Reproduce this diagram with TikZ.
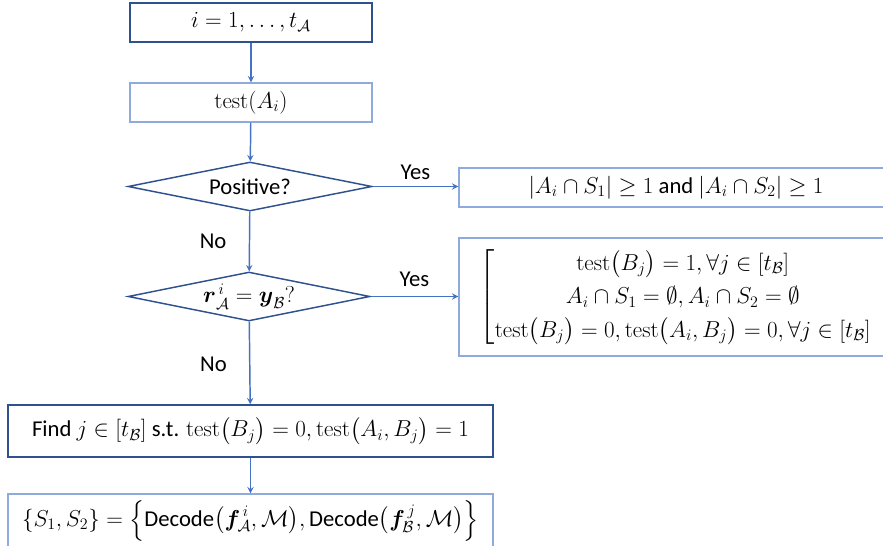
\documentclass[tikz,border=0pt]{standalone}
\usepackage{amsmath,amssymb}
\usepackage[no-math]{fontspec}
\setmainfont{Carlito}
\usepackage{tikz}
\usetikzlibrary{shapes.geometric, arrows}
\usetikzlibrary{positioning}

\definecolor{boxdark}{RGB}{47,82,143}
\definecolor{boxlight}{RGB}{143,170,220}
\definecolor{arrowblue}{RGB}{68,114,196}

\begin{document}
\begin{tikzpicture}[x=0.75pt,y=0.75pt,yscale=-1,xscale=1]
  \tikzstyle{arrow} = [line width=1.1pt,->,>=stealth,arrowblue]
  \tikzstyle{block} = [draw=boxdark,line width=1.1pt,rectangle,inner sep=0pt,font=\fontsize{17}{20}\selectfont]
  \tikzstyle{decision} = [draw=boxdark,line width=1.1pt,diamond,aspect=5,inner sep=0pt,font=\fontsize{17}{20}\selectfont]
  \tikzstyle{answer} = [text=black,font=\fontsize{17}{20}\selectfont,inner sep=0.75pt]
  %fix the picture to 883 x 546
  \clip (0,0) rectangle (883,546);
  %Draw the left column
  \node[block,minimum width=181.5pt,minimum height=29.25pt] (start) at (251,22.5) {$i=1,\ldots,t_{\mathcal{A}}$};
  \node[block,draw=boxlight,minimum width=181.5pt,minimum height=29.25pt] (test) at (251,102.5) {$\mathrm{test}(A_i)$};
  \node[decision,minimum width=183pt,minimum height=36.75pt] (pos) at (250,186.5) {Positive?};
  \node[decision,minimum width=181.5pt,minimum height=36.75pt] (eq) at (249,296.5) {$\boldsymbol{r}_{\mathcal{A}}^{\,i}=\boldsymbol{y}_{\mathcal{B}}?$};
  \node[block,minimum width=363.75pt,minimum height=39pt] (find) at (250.5,431) {Find $j\in[t_{\mathcal{B}}]$ s.t. $\mathrm{test}\bigl(B_j\bigr)=0,\mathrm{test}\bigl(A_i,B_j\bigr)=1$};
  \node[block,draw=boxlight,minimum width=363.75pt,minimum height=39.75pt] (decode) at (250.5,520.5) {$\{S_1,S_2\}=\Bigl\{\text{Decode}\bigl(\boldsymbol{f}_{\!\mathcal{A}}^{\,i},\mathcal{M}\bigr),\text{Decode}\bigl(\boldsymbol{f}_{\!\mathcal{B}}^{\,j},\mathcal{M}\bigr)\Bigr\}$};
  %Draw the right column
  \node[block,draw=boxlight,minimum width=325.5pt,minimum height=29.25pt] (hit) at (676,187.5) {$|A_i\cap S_1|\geq 1$ and $|A_i\cap S_2|\geq 1$};
  \node[block,draw=boxlight,minimum width=325.5pt,minimum height=88.5pt] (miss) at (676,297) {\renewcommand{\arraystretch}{1.25}$\left[\begin{array}{@{}c@{}}
      \mathrm{test}\bigl(B_j\bigr)=1,\forall j\in[t_{\mathcal{B}}]\\
      A_i\cap S_1=\emptyset,A_i\cap S_2=\emptyset\\
      \mathrm{test}\bigl(B_j\bigr)=0,\mathrm{test}\bigl(A_i,B_j\bigr)=0,\forall j\in[t_{\mathcal{B}}]
    \end{array}\right.$};
  %Draw the arrows
  \draw[arrow] (start) -- (test);
  \draw[arrow] (test) -- (pos);
  \draw[arrow] (pos) -- node[answer,left=16pt] (no1) {No} (eq);
  \draw[arrow] (eq) -- node[answer,left=16pt,pos=0.52] (no2) {No} (find);
  \draw[arrow] (find) -- (decode);
  \draw[arrow] (pos.east) -- node[answer,above=4pt] (yes1) {Yes} (hit.west |- pos.east);
  \draw[arrow] (eq.east) -- node[answer,above=6pt] (yes2) {Yes} (miss.west |- eq.east);
\end{tikzpicture}
\end{document}
